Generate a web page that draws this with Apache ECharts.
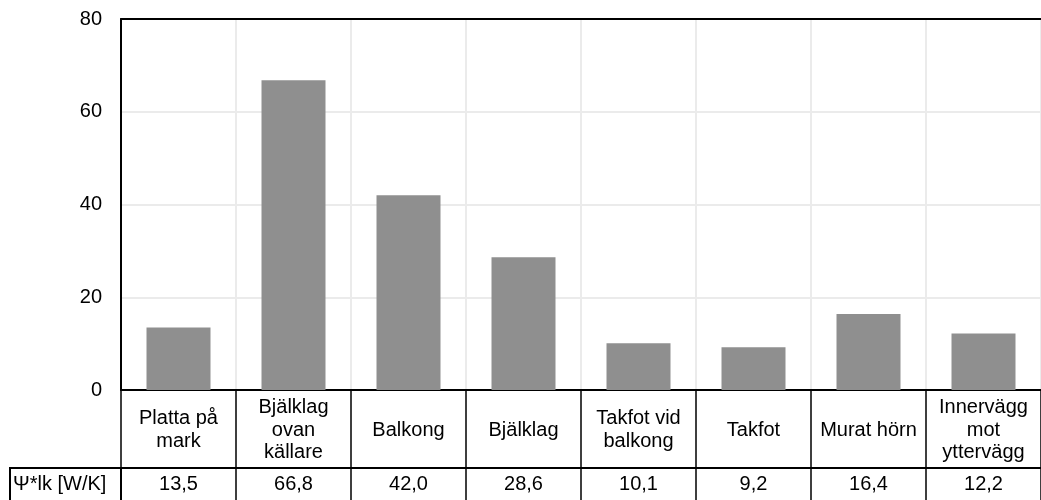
<!DOCTYPE html>
<html>
<head>
<meta charset="utf-8">
<script src="https://cdn.jsdelivr.net/npm/echarts@6/dist/echarts.min.js"></script>
<style>
  html, body { margin: 0; padding: 0; background: #fff; }
  #chart { width: 1041px; height: 500px; }
</style>
</head>
<body>
<div id="chart"></div>
<script>
// Thermal bridge losses per junction type
const categories = [
  'Platta på\nmark',
  'Bjälklag\novan\nkällare',
  'Balkong',
  'Bjälklag',
  'Takfot vid\nbalkong',
  'Takfot',
  'Murat hörn',
  'Innervägg\nmot\nyttervägg'
];
const values = [13.5, 66.8, 42.0, 28.6, 10.1, 9.2, 16.4, 12.2];
const rowHeader = 'Ψ*lk [W/K]';
const yTicks = { min: 0, max: 80, interval: 20 };

const FONT = 'Liberation Sans, Arial, sans-serif';
const FS = 20;
const fmt = v => v.toFixed(1).replace('.', ',');

const chart = echarts.init(document.getElementById('chart'), null, { renderer: 'canvas' });

chart.setOption({
  animation: false,
  backgroundColor: '#ffffff',
  grid: { left: 121, right: 0, top: 19, bottom: 110, containLabel: false },
  xAxis: [
    {
      type: 'category',
      data: categories,
      position: 'bottom',
      axisLine: { show: true, lineStyle: { color: '#000', width: 2 } },
      axisTick: { show: true, length: 110, lineStyle: { color: '#000', width: 1.5 } },
      axisLabel: {
        interval: 0, margin: 40, verticalAlign: 'middle', align: 'center',
        fontSize: FS, lineHeight: 22.5, color: '#000', fontFamily: FONT
      },
      splitLine: { show: true, lineStyle: { color: '#ebebeb', width: 2 } }
    },
    {
      type: 'category',
      data: categories,
      position: 'bottom',
      offset: 78,
      axisLine: { show: true, lineStyle: { color: '#000', width: 2 } },
      axisTick: { show: false },
      axisLabel: {
        interval: 0, margin: 16, verticalAlign: 'middle',
        fontSize: FS, color: '#000', fontFamily: FONT,
        formatter: (v, i) => fmt(values[i])
      },
      splitLine: { show: false }
    },
    {
      type: 'category',
      data: categories,
      position: 'top',
      axisLine: { show: true, lineStyle: { color: '#000', width: 2 } },
      axisTick: { show: false },
      axisLabel: { show: false },
      splitLine: { show: false }
    }
  ],
  yAxis: {
    type: 'value',
    min: yTicks.min, max: yTicks.max, interval: yTicks.interval,
    axisLine: { show: true, lineStyle: { color: '#000', width: 2 } },
    axisTick: { show: false },
    axisLabel: { margin: 19, fontSize: FS, color: '#000', fontFamily: FONT },
    splitLine: { show: true, lineStyle: { color: '#ebebeb', width: 2 } }
  },
  series: [{
    type: 'bar',
    xAxisIndex: 0,
    data: values,
    barWidth: 64,
    itemStyle: { color: '#8f8f8f' }
  }],
  graphic: [
    {
      type: 'rect',
      shape: { x: 10, y: 468, width: 111, height: 40 },
      style: { fill: 'none', stroke: '#000', lineWidth: 2 },
      z: 10
    },
    {
      type: 'text',
      x: 13, y: 484,
      style: {
        text: rowHeader, fontSize: FS, fontFamily: FONT, fill: '#000',
        verticalAlign: 'middle', align: 'left'
      },
      z: 10
    }
  ]
});
</script>
</body>
</html>
